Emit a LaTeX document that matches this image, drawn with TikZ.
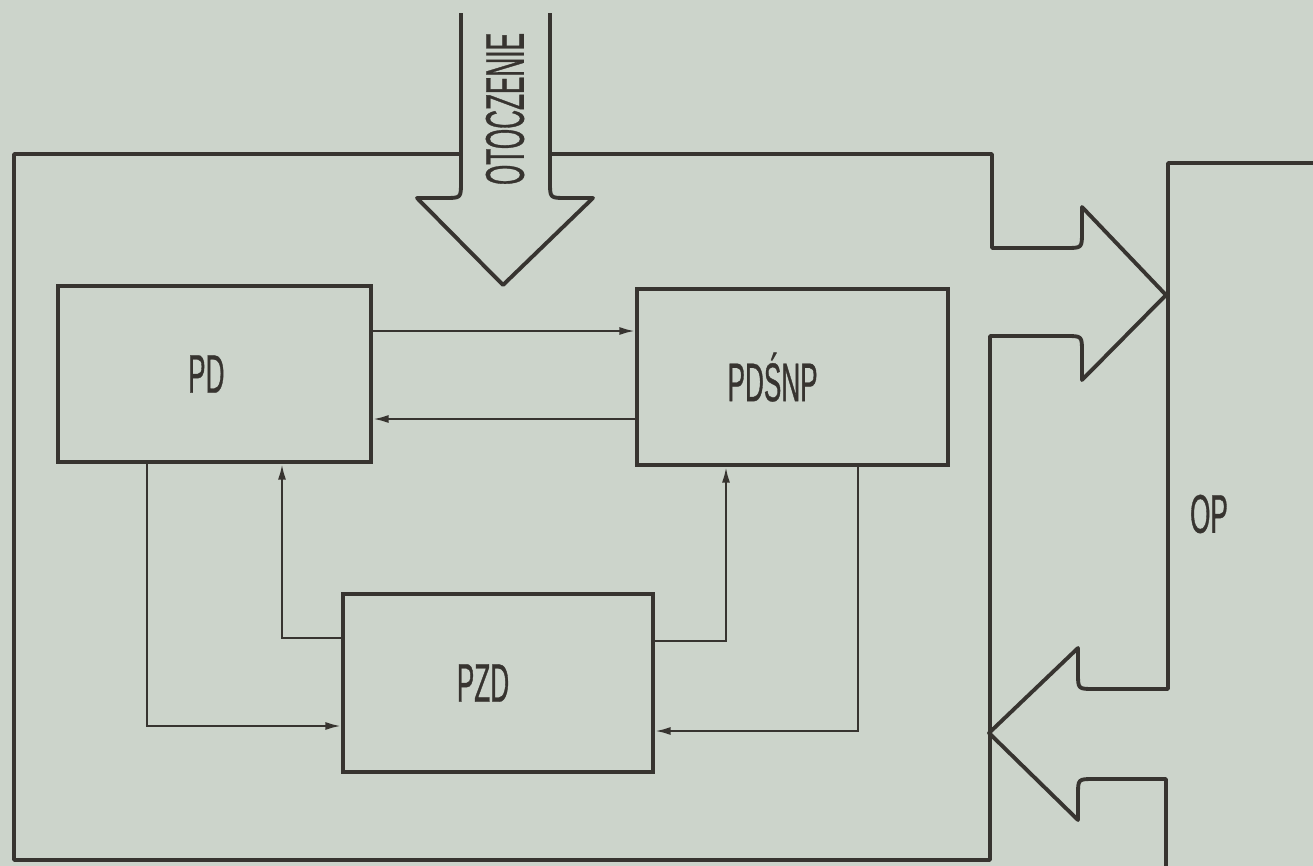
\documentclass[tikz,border=0pt]{standalone}
\usepackage{fontspec}
\newfontfamily\stencilfont{Liberation Sans}[FakeStretch=0.48, FakeBold=0.6]
\usetikzlibrary{arrows.meta}

\definecolor{paper}{RGB}{204,212,203}
\definecolor{ink}{RGB}{55,52,48}

\tikzset{
  lettering/.style={font=\stencilfont\fontsize{31}{32}\selectfont, text=ink},
  block/.style={draw=ink, line width=2.2pt, inner sep=0pt, lettering},
  conn/.style={draw=ink, line width=1.3pt, -{Latex[length=9pt,width=4.6pt]}},
  outline/.style={draw=ink, line width=2.2pt, line join=round}
}

\begin{document}
\begin{tikzpicture}[x=0.02cm, y=-0.02cm]
\useasboundingbox[fill=paper] (0,0) rectangle (1313,866);

% system boundary with outgoing arrow
\draw[outline] (550,154) -- (992,154) -- (992,248) -- (1066,248)
  .. controls (1082,248) .. (1082,232) -- (1082,207) -- (1166,295)
  -- (1082,380) -- (1082,352) .. controls (1082,336) .. (1066,336)
  -- (990,336) -- (990,860) -- (14,860) -- (14,154) -- (461,154);

% environment arrow
\draw[outline] (461,13) -- (461,182) .. controls (461,198) .. (445,198)
  -- (417,198) -- (503,285) -- (593,198) -- (566,198)
  .. controls (550,198) .. (550,182) -- (550,13);
\node[lettering, rotate=90] (env) at (505,109) {OTOCZENIE};

% OP with incoming arrow
\draw[outline] (1330,163) -- (1168,163) -- (1168,689) -- (1094,689)
  .. controls (1078,689) .. (1078,673) -- (1078,648) -- (989,733)
  -- (1078,820) -- (1078,795) .. controls (1078,779) .. (1094,779)
  -- (1166,779) -- (1166,880);
\node[lettering] (op) at (1209,514) {OP};

% blocks
\node[block, minimum width=6.26cm, minimum height=3.52cm] (pd) at (214.5,374) {PD\hspace*{0.3em}};
\node[block, minimum width=6.22cm, minimum height=3.52cm] (pdsnp) at (792.5,377) {PDŚNP\hspace*{0.73em}};
\node[block, minimum width=6.2cm, minimum height=3.56cm] (pzd) at (498,683) {PZD\hspace*{0.55em}};

% connections
\draw[conn] (pd.east |- 0,331) -- (pdsnp.west |- 0,331);
\draw[conn] (pdsnp.west |- 0,419) -- (pd.east |- 0,419);
\draw[conn] (pd.south -| 147,0) |- (pzd.west |- 0,726);
\draw[conn] (pzd.west |- 0,638) -| (pd.south -| 282,0);
\draw[conn] (pzd.east |- 0,641) -| (pdsnp.south -| 726,0);
\draw[conn] (pdsnp.south -| 858,0) |- (pzd.east |- 0,731);
\end{tikzpicture}
\end{document}
